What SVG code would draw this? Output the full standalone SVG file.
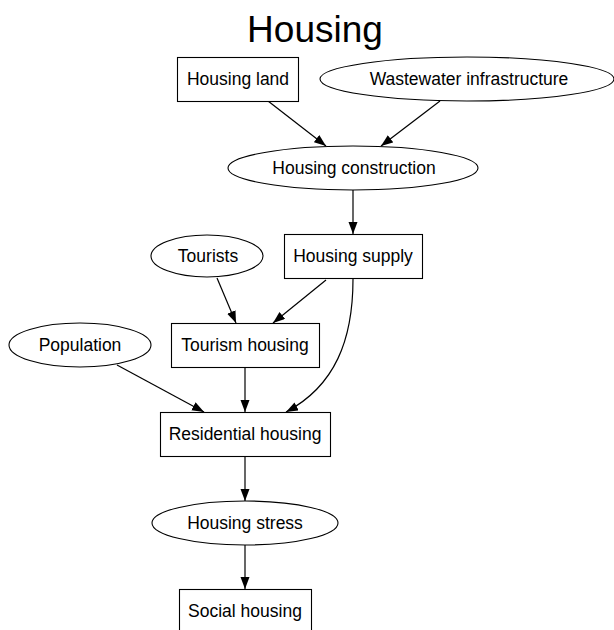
<svg xmlns="http://www.w3.org/2000/svg" width="614" height="630" viewBox="0 0 614 630">
<style>
.n{fill:#fff;stroke:#000;stroke-width:1.1}
.t{font-family:"Liberation Sans",Arial,sans-serif;font-size:17.5px;text-anchor:middle;fill:#000}
.e{fill:none;stroke:#000;stroke-width:1.2}
</style>
<defs>
<marker id="a" markerWidth="13" markerHeight="10" refX="12" refY="4.5" orient="auto" markerUnits="userSpaceOnUse">
<path d="M0,0 L12,4.5 L0,9 Z" fill="#000"/>
</marker>
</defs>
<rect width="614" height="630" fill="#fff"/>
<text x="315" y="42" style="font-family:'Liberation Sans',Arial,sans-serif;font-size:37px;text-anchor:middle">Housing</text>
<g id="edges">
<path class="e" marker-end="url(#a)" d="M268,101 L326,146"/>
<path class="e" marker-end="url(#a)" d="M440,101 L381,146"/>
<path class="e" marker-end="url(#a)" d="M353,190 L353,234"/>
<path class="e" marker-end="url(#a)" d="M217,278 L236,323"/>
<path class="e" marker-end="url(#a)" d="M326,280 L273,323"/>
<path class="e" marker-end="url(#a)" d="M353,279 C353,340 335,386 286,412"/>
<path class="e" marker-end="url(#a)" d="M117,365 L204,412"/>
<path class="e" marker-end="url(#a)" d="M245,368 L245,412"/>
<path class="e" marker-end="url(#a)" d="M245,456 L245,501"/>
<path class="e" marker-end="url(#a)" d="M245,545 L245,589"/>
</g>
<g id="housing_land"><rect class="n" x="177.5" y="57.5" width="121" height="44"/><text class="t" x="238" y="85">Housing land</text></g>
<g id="wastewater"><ellipse class="n" cx="467" cy="79" rx="147" ry="22"/><text class="t" x="469" y="85">Wastewater infrastructure</text></g>
<g id="housing_construction"><ellipse class="n" cx="353" cy="168" rx="125" ry="22"/><text class="t" x="354" y="174">Housing construction</text></g>
<g id="housing_supply"><rect class="n" x="284.5" y="234.5" width="138" height="44"/><text class="t" x="353" y="262">Housing supply</text></g>
<g id="tourists"><ellipse class="n" cx="207" cy="256" rx="56" ry="21"/><text class="t" x="208" y="262">Tourists</text></g>
<g id="tourism_housing"><rect class="n" x="171.5" y="323.5" width="148" height="44"/><text class="t" x="245" y="351">Tourism housing</text></g>
<g id="population"><ellipse class="n" cx="80" cy="345" rx="71" ry="22"/><text class="t" x="80" y="351">Population</text></g>
<g id="residential_housing"><rect class="n" x="160.5" y="412.5" width="170" height="44"/><text class="t" x="245" y="440">Residential housing</text></g>
<g id="housing_stress"><ellipse class="n" cx="245" cy="523" rx="93" ry="22"/><text class="t" x="245" y="529">Housing stress</text></g>
<g id="social_housing"><rect class="n" x="179.5" y="589.5" width="132" height="44"/><text class="t" x="245" y="617">Social housing</text></g>
</svg>
